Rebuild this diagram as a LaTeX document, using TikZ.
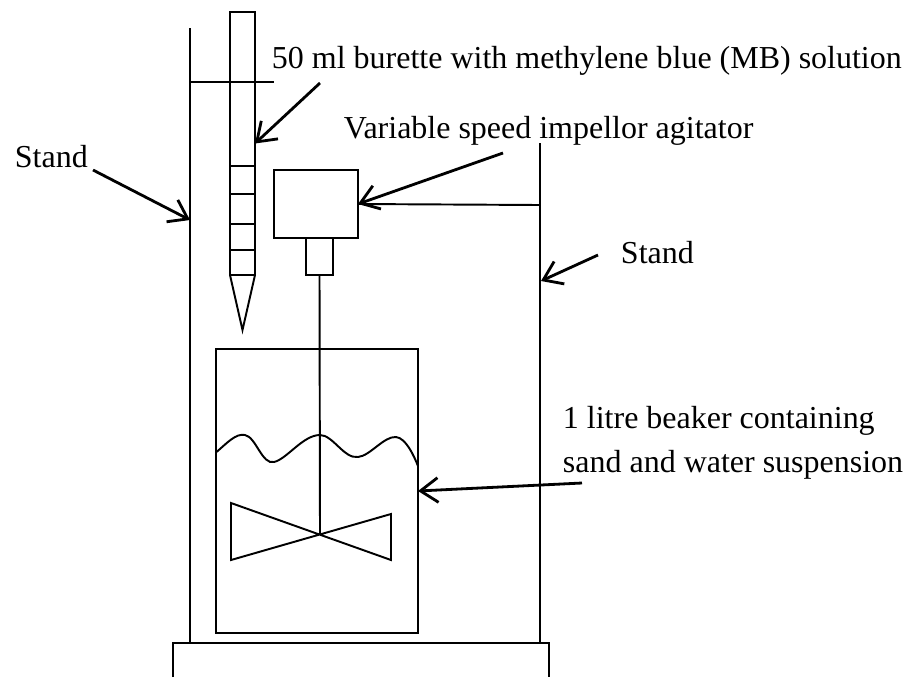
\documentclass[tikz,border=0pt]{standalone}
\usepackage{fontspec}
\setmainfont{Liberation Serif}
\usetikzlibrary{arrows.meta}
\tikzset{
  part/.style = {rectangle, draw=black, inner sep=0pt, outer sep=0pt,
      minimum width=#1},
  part/.default = 1cm,
  lbl/.style = {anchor=base west, inner sep=0pt, font=\fontsize{9.1pt}{11pt}\selectfont},
  pointer/.style = {-{Straight Barb[length=5pt, width=7pt]}, line width=.8pt},
}

\begin{document}
\begin{tikzpicture}[line width=.55pt]
  \useasboundingbox (0,0) rectangle (9.12,6.77);

  \coordinate (lsT) at (1.90,6.49);
  \coordinate (lsB) at (1.90,.34);
  \coordinate (rsT) at (5.40,5.34);
  \coordinate (rsB) at (5.40,.34);
  \coordinate (rsA) at (5.40,4.72);
  \coordinate (clamp) at (2.74,5.95);
  \coordinate (lsC) at (1.90,5.95);
  \coordinate (lsP) at (1.90,4.57);
  \coordinate (rsP) at (5.41,3.96);
  \coordinate (hub) at (3.20,1.42);
  \coordinate (tip) at (2.425,3.47);

  \node[part=.25cm, minimum height=2.63cm] (burette) at (2.425,5.335) {};
  \node[part=.84cm, minimum height=.68cm] (agitator) at (3.16,4.73) {};
  \node[part=.27cm, minimum height=.37cm] (motor) at (3.195,4.205) {};
  \node[part=2.02cm, minimum height=2.84cm] (beaker) at (3.17,1.86) {};

  \draw (lsT) -- (lsB);
  \draw (rsT) -- (rsB);
  \draw (lsC) -- (clamp);
  \draw (rsA) -- (agitator.east);
  \draw (1.73,0) -- (1.73,.34) -- (5.49,.34) -- (5.49,0);

  \foreach \y in {5.11,4.83,4.53,4.27}
  \draw (2.30,\y) -- (2.55,\y);
  \draw (burette.south west) -- (tip) -- (burette.south east);

  \draw (motor.south) -- (hub);
  \draw (2.31,1.17) -- (2.31,1.74) -- (3.91,1.17) -- (3.91,1.63) -- cycle;

  % water level
  \draw (2.165,2.25) .. controls (2.27,2.34) and (2.36,2.44) .. (2.45,2.42)
  .. controls (2.56,2.40) and (2.62,2.12) .. (2.74,2.15)
  .. controls (2.87,2.18) and (3.03,2.42) .. (3.20,2.42)
  .. controls (3.33,2.42) and (3.44,2.18) .. (3.58,2.20)
  .. controls (3.70,2.21) and (3.84,2.41) .. (3.96,2.40)
  .. controls (4.06,2.39) and (4.14,2.21) .. (4.18,2.11);

  \node[lbl] (lblBurette) at (2.71,6.09) {50 ml burette with methylene blue (MB) solution};
  \node[lbl] (lblAgitator) at (3.43,5.39) {Variable speed impellor agitator};
  \node[lbl] (lblStandL) at (.14,5.10) {Stand};
  \node[lbl] (lblStandR) at (6.20,4.14) {Stand};
  \node[lbl] (lblBeakerA) at (5.62,2.49) {1 litre beaker containing};
  \node[lbl] (lblBeakerB) at (5.62,2.05) {sand and water suspension};

  \coordinate (fromBurette) at (3.20,5.94);
  \coordinate (fromAgitator) at (5.03,5.24);
  \coordinate (fromStandL) at (.93,5.07);
  \coordinate (fromStandR) at (5.98,4.22);
  \coordinate (fromBeaker) at (5.82,1.94);

  \draw[pointer] (fromBurette) -- (burette.east);
  \draw[pointer] (fromAgitator) -- (agitator.east);
  \draw[pointer] (fromStandL) -- (lsP);
  \draw[pointer] (fromStandR) -- (rsP);
  \draw[pointer] (fromBeaker) -- (beaker.east);
\end{tikzpicture}
\end{document}
